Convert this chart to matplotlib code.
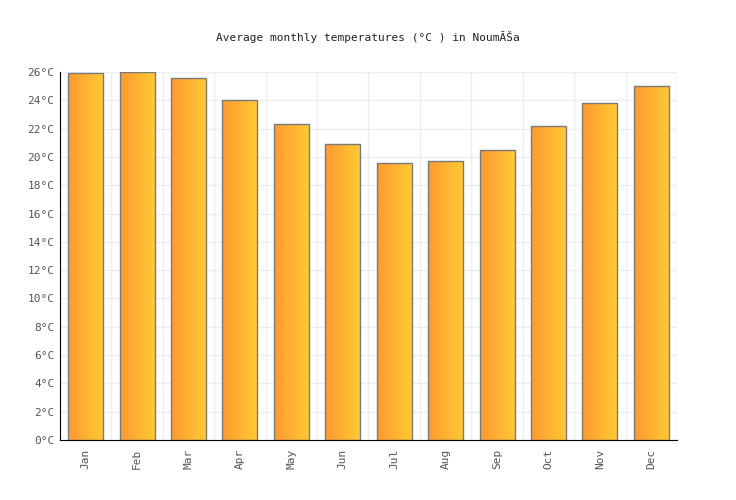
import numpy as np
import matplotlib
matplotlib.use("Agg")
import matplotlib.pyplot as plt
from matplotlib.colors import LinearSegmentedColormap

months = ["Jan", "Feb", "Mar", "Apr", "May", "Jun", "Jul", "Aug", "Sep", "Oct", "Nov", "Dec"]
temps = [25.9, 26.0, 25.6, 24.0, 22.3, 20.9, 19.6, 19.7, 20.5, 22.2, 23.8, 25.0]
yticks = list(range(0, 27, 2))
title = "Average monthly temperatures (°C ) in NoumĂŠa"

plt.rcParams['font.family'] = ['DejaVu Sans Mono']

fig = plt.figure(figsize=(7.36, 5.0), dpi=100)
ax = fig.add_axes([60 / 736, 60 / 500, 617 / 736, 368 / 500])

x = np.arange(len(months))
bars = ax.bar(x, temps, width=0.68, facecolor='none', edgecolor='#7a7a7a', linewidth=1.0, zorder=3)

# gradient fill clipped to each bar
cmap = LinearSegmentedColormap.from_list('og', ['#ff9930', '#ffc935'])
grad = np.linspace(0, 1, 64).reshape(1, -1)
for b in bars:
    x0, y0 = b.get_x(), b.get_y()
    w, h = b.get_width(), b.get_height()
    im = ax.imshow(grad, cmap=cmap, extent=[x0, x0 + w, y0, y0 + h],
                   aspect='auto', zorder=2, interpolation='bilinear')
    im.set_clip_path(b)

ax.set_xlim(-0.5, len(months) - 0.5)
ax.set_ylim(0, 26)
ax.set_xticks(x)
ax.set_xticklabels(months, rotation=90, fontsize=8, color='#555555')
ax.set_yticks(yticks)
ax.set_yticklabels([f"{v}°C" for v in yticks], fontsize=8, color='#555555')
ax.set_xticks(np.arange(-0.5, len(months), 1), minor=True)
ax.tick_params(axis='x', which='both', length=0, pad=6)
ax.tick_params(axis='y', length=0, pad=4)

ax.grid(False)
ax.yaxis.grid(True, color='#eeeeee', linewidth=1, zorder=0)
ax.xaxis.grid(True, which='minor', color='#eeeeee', linewidth=1, zorder=0)
ax.set_axisbelow(True)

for s in ['top', 'right']:
    ax.spines[s].set_visible(False)
ax.spines['left'].set_color('black')
ax.spines['bottom'].set_color('black')

fig.text(0.5, 1 - 37 / 500, title, ha='center', va='center', fontsize=8, color='#222222')

fig.savefig("out.png", dpi=100)
